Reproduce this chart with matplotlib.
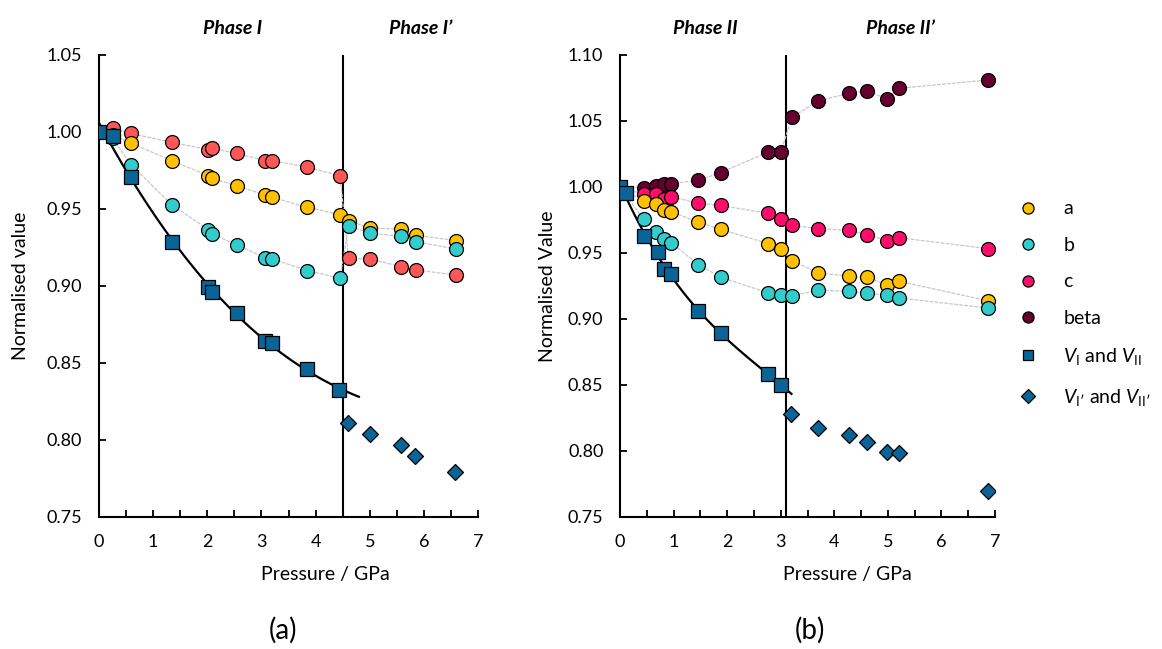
"""Normalised lattice parameters and volume vs pressure, two phases per panel."""
import matplotlib
matplotlib.use("Agg")
import matplotlib.pyplot as plt
import numpy as np
from matplotlib.lines import Line2D

plt.rcParams["font.family"] = ["Lato", "DejaVu Sans"]
plt.rcParams["mathtext.fontset"] = "custom"
plt.rcParams["mathtext.rm"] = "Lato"
plt.rcParams["mathtext.it"] = "Lato:italic"

# ---- panel (a): phase I / I' ----
P_A = [0.0, 0.25, 0.59, 1.34, 2.02, 2.08, 2.54, 3.07, 3.20, 3.85, 4.45,
       4.61, 5.01, 5.58, 5.85, 6.59]
A_a = [1.0, 0.998, 0.9927, 0.9814, 0.9716, 0.970, 0.9651, 0.959, 0.9576, 0.951, 0.9463,
       0.9424, 0.9375, 0.937, 0.933, 0.9294]
B_a = [1.0, 0.9959, 0.9788, 0.9528, 0.9366, 0.9338, 0.9268, 0.9182, 0.9175, 0.910, 0.905,
       0.9388, 0.9342, 0.9323, 0.9288, 0.924]
C_a = [1.0, 1.0024, 0.999, 0.9933, 0.9885, 0.9894, 0.9861, 0.9814, 0.9814, 0.977, 0.9716,
       0.918, 0.9175, 0.9125, 0.9104, 0.9071]
P_VI = [0.0, 0.25, 0.59, 1.34, 2.02, 2.08, 2.54, 3.07, 3.19, 3.85, 4.44]
V_I = [1.0, 0.9972, 0.971, 0.9288, 0.8991, 0.8963, 0.8825, 0.8641, 0.8628, 0.8461, 0.8325]
P_VIp = [4.60, 5.01, 5.58, 5.84, 6.58]
V_Ip = [0.8108, 0.804, 0.7968, 0.7896, 0.7792]
FIT_END_A = 4.8
BOUNDARY_A = 4.5

# ---- panel (b): phase II / II' ----
P_B = [0.0, 0.44, 0.68, 0.82, 0.96, 1.46, 1.88, 2.77, 3.0,
       3.21, 3.70, 4.28, 4.61, 4.98, 5.21, 6.87]
A_b = [1.0, 0.9893, 0.9868, 0.9825, 0.9812, 0.9734, 0.9678, 0.9571, 0.9533,
       0.9442, 0.9349, 0.9323, 0.9315, 0.926, 0.9285, 0.9138]
B_b = [1.0, 0.9754, 0.9657, 0.9602, 0.9577, 0.9412, 0.9315, 0.9197, 0.9179,
       0.9176, 0.9217, 0.9209, 0.9197, 0.9179, 0.9159, 0.9083]
C_b = [1.0, 0.9944, 0.9944, 0.991, 0.9926, 0.9875, 0.986, 0.980, 0.9759,
       0.9708, 0.9685, 0.967, 0.9638, 0.9594, 0.9615, 0.9533]
BETA_b = [1.0, 0.9995, 1.0007, 1.002, 1.0025, 1.005, 1.0109, 1.0265, 1.0265,
          1.0527, 1.0653, 1.0709, 1.0729, 1.0666, 1.0747, 1.081]
P_VII = [0.0, 0.11, 0.44, 0.70, 0.82, 0.96, 1.46, 1.88, 2.77, 3.0]
V_II = [1.0, 0.9957, 0.9632, 0.9505, 0.9379, 0.9341, 0.9057, 0.8893, 0.8581, 0.850]
P_VIIp = [3.20, 3.70, 4.27, 4.61, 4.98, 5.20, 6.87]
V_IIp = [0.8277, 0.8176, 0.812, 0.8065, 0.7993, 0.7981, 0.7695]
FIT_END_B = 3.2
BOUNDARY_B = 3.1

YELLOW = "#FFC000"
CYAN = "#33CCCC"
RED_A = "#FF5757"
PINK_B = "#FF0D6A"
MAROON = "#66002E"
BLUE = "#0B6496"
GREY = "#c8c8c8"

circ = dict(marker="o", ms=10, mec="black", mew=0.9, ls="none", zorder=3)


def series(ax, p, v, color):
    ax.plot(p, v, color=GREY, lw=0.9, ls=(0, (3, 1)), zorder=1)
    ax.plot(p, v, mfc=color, **circ)


def volume(ax, p, v, pp, vp, fit_end):
    coef = np.polyfit(p, v, 3)
    xs = np.linspace(0, fit_end, 100)
    ax.plot(xs, np.polyval(coef, xs), color="black", lw=1.6, zorder=2)
    ax.plot(p, v, marker="s", ms=9.5, mfc=BLUE, mec="black", mew=0.9,
            ls="none", zorder=5)
    ax.plot(pp, vp, marker="D", ms=8, mfc=BLUE, mec="black", mew=0.9,
            ls="none", zorder=5)


def style(ax, ylim, ylabel, xlab_x, ylab_x):
    ax.set_xlim(0, 7)
    ax.set_ylim(*ylim)
    ax.set_xticks(np.arange(0, 8, 1))
    ax.set_xticks(np.arange(0, 7.01, 0.5), minor=True)
    ax.set_yticks(np.arange(ylim[0], ylim[1] + 0.001, 0.05))
    ax.yaxis.set_major_formatter(plt.FormatStrFormatter("%.2f"))
    for s in ("top", "right"):
        ax.spines[s].set_visible(False)
    for s in ("left", "bottom"):
        ax.spines[s].set_linewidth(1.5)
    ax.tick_params(direction="in", length=5, width=1.3, labelsize=13, pad=12)
    ax.tick_params(which="minor", direction="in", length=5, width=1.3)
    ax.set_xlabel("Pressure / GPa", fontsize=14)
    ax.set_ylabel(ylabel, fontsize=14)
    ax.xaxis.set_label_coords(xlab_x, -0.105)
    ax.yaxis.set_label_coords(ylab_x, 0.5)


fig = plt.figure(figsize=(11.62, 6.49), dpi=100)
ax1 = fig.add_axes([0.0852, 0.2034, 0.3262, 0.712])
ax2 = fig.add_axes([0.5336, 0.2034, 0.3227, 0.712])

series(ax1, P_A, C_a, RED_A)
series(ax1, P_A, A_a, YELLOW)
series(ax1, P_A, B_a, CYAN)
volume(ax1, P_VI, V_I, P_VIp, V_Ip, FIT_END_A)
ax1.axvline(BOUNDARY_A, color="black", lw=1.5, zorder=0)
style(ax1, (0.75, 1.05), "Normalised value", 0.596, -0.185)

series(ax2, P_B, BETA_b, MAROON)
series(ax2, P_B, C_b, PINK_B)
series(ax2, P_B, A_b, YELLOW)
series(ax2, P_B, B_b, CYAN)
volume(ax2, P_VII, V_II, P_VIIp, V_IIp, FIT_END_B)
ax2.axvline(BOUNDARY_B, color="black", lw=1.5, zorder=0)
style(ax2, (0.75, 1.10), "Normalised Value", 0.606, -0.17)

ph = dict(fontsize=14, fontweight="bold", fontstyle="italic", ha="center", va="center")
fig.text(233 / 1162, 1 - 29 / 649, "Phase I", **ph)
fig.text(421 / 1162, 1 - 29 / 649, "Phase I\u2019", **ph)
fig.text(705 / 1162, 1 - 29 / 649, "Phase II", **ph)
fig.text(900 / 1162, 1 - 29 / 649, "Phase II\u2019", **ph)
fig.text(283 / 1162, 1 - 630 / 649, "(a)", fontsize=20, ha="center", va="center")
fig.text(810 / 1162, 1 - 630 / 649, "(b)", fontsize=20, ha="center", va="center")

leg = dict(mec="black", mew=0.9, ls="none")
handles = [
    Line2D([], [], marker="o", ms=8, mfc=YELLOW, **leg),
    Line2D([], [], marker="o", ms=8, mfc=CYAN, **leg),
    Line2D([], [], marker="o", ms=8, mfc=PINK_B, **leg),
    Line2D([], [], marker="o", ms=8, mfc=MAROON, **leg),
    Line2D([], [], marker="s", ms=7, mfc=BLUE, **leg),
    Line2D([], [], marker="D", ms=7.5, mfc=BLUE, **leg),
]
labels = ["a", "b", "c", "beta",
          r"$V_{\mathrm{I}}$ and $V_{\mathrm{II}}$",
          r"$V_{\mathrm{I\prime}}$ and $V_{\mathrm{II\prime}}$"]
fig.legend(handles, labels, loc="upper left",
           bbox_to_anchor=(1001 / 1162, 1 - 183 / 649),
           frameon=False, fontsize=14, labelspacing=1.0,
           handlelength=1.0, handletextpad=1.3)

fig.savefig("out.png", dpi=100)
